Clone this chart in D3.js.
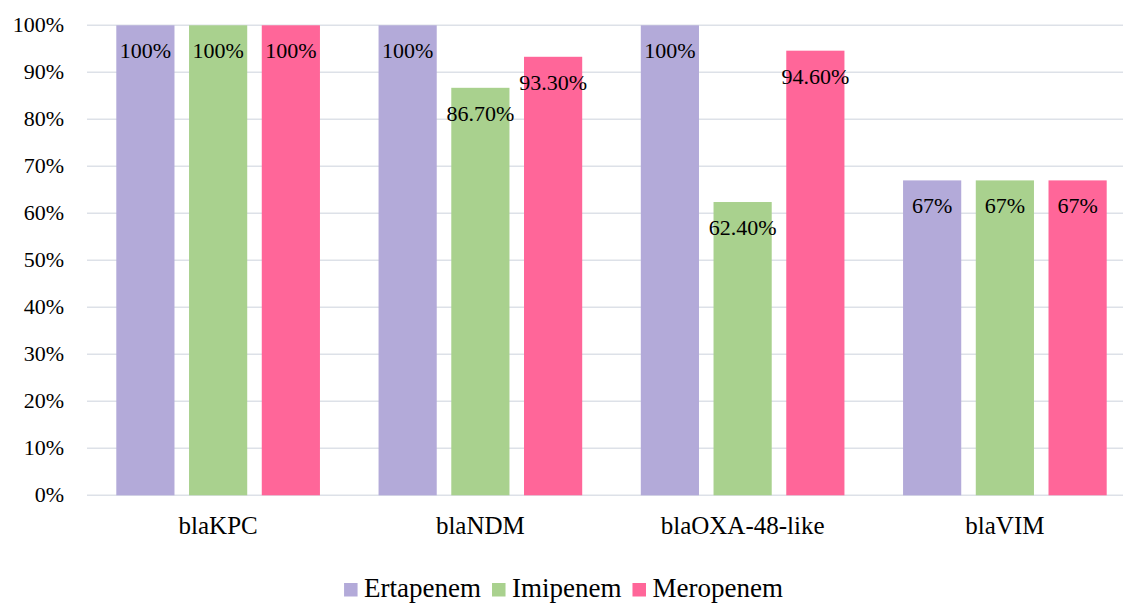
<!DOCTYPE html>
<html>
<head>
<meta charset="utf-8">
<script src="https://cdn.jsdelivr.net/npm/d3@7"></script>
<style>
  body { margin: 0; background: #fff; }
</style>
</head>
<body>
<div id="chart"></div>
<script>
var width = 1123;
var height = 605;
var fontFamily = "'Liberation Serif', Tinos, 'DejaVu Serif', 'Times New Roman', serif";

var categories = ["blaKPC", "blaNDM", "blaOXA-48-like", "blaVIM"];
var seriesNames = ["Ertapenem", "Imipenem", "Meropenem"];
var ertapenem = [1.00, 1.00, 1.00, 0.67];
var imipenem = [1.00, 0.867, 0.624, 0.67];
var meropenem = [1.00, 0.933, 0.946, 0.67];
var labelText = [
  ["100%", "100%", "100%", "67%"],
  ["100%", "86.70%", "62.40%", "67%"],
  ["100%", "93.30%", "94.60%", "67%"]
];
var yTicks = [0, 0.1, 0.2, 0.3, 0.4, 0.5, 0.6, 0.7, 0.8, 0.9, 1.0];
var colors = ["#b3aad9", "#a9d18e", "#ff6699"];

function createSVG() {
  return d3.select("#chart")
    .append("svg")
    .attr("width", width)
    .attr("height", height)
    .attr("font-family", fontFamily);
}

function drawChart(svg) {
  var values = [ertapenem, imipenem, meropenem];

  var x0 = d3.scaleBand()
    .domain(categories)
    .range([87, 1136])
    .padding(0);

  var x1 = d3.scaleBand()
    .domain(seriesNames)
    .range([29.3, x0.bandwidth() - 29.3])
    .paddingInner(0.2)
    .paddingOuter(0);

  var y = d3.scaleLinear()
    .domain([0, 1])
    .range([495.3, 25.3]);

  // gridlines
  svg.append("g")
    .selectAll("line")
    .data(yTicks)
    .enter()
    .append("line")
    .attr("x1", 87)
    .attr("x2", width)
    .attr("y1", function(d) { return y(d); })
    .attr("y2", function(d) { return y(d); })
    .attr("stroke", "#dde1e8")
    .attr("stroke-width", 1.5);

  // y tick labels
  svg.append("g")
    .selectAll("text")
    .data(yTicks)
    .enter()
    .append("text")
    .attr("x", 64)
    .attr("y", function(d) { return y(d) + 7; })
    .attr("text-anchor", "end")
    .attr("font-size", 22)
    .text(function(d) { return d3.format(".0%")(d); });

  // bars
  var rows = [];
  values.forEach(function(arr, s) {
    arr.forEach(function(v, c) {
      rows.push({ s: s, c: c, v: v, label: labelText[s][c] });
    });
  });

  svg.append("g")
    .selectAll("rect")
    .data(rows)
    .enter()
    .append("rect")
    .attr("x", function(d) { return x0(categories[d.c]) + x1(seriesNames[d.s]); })
    .attr("y", function(d) { return y(d.v); })
    .attr("width", x1.bandwidth())
    .attr("height", function(d) { return y(0) - y(d.v); })
    .attr("fill", function(d) { return colors[d.s]; });

  // data labels
  svg.append("g")
    .selectAll("text")
    .data(rows)
    .enter()
    .append("text")
    .attr("x", function(d) { return x0(categories[d.c]) + x1(seriesNames[d.s]) + x1.bandwidth() / 2; })
    .attr("y", function(d) { return y(d.v) + 33; })
    .attr("text-anchor", "middle")
    .attr("font-size", 22)
    .text(function(d) { return d.label; });

  // category labels
  svg.append("g")
    .selectAll("text")
    .data(categories)
    .enter()
    .append("text")
    .attr("x", function(d) { return x0(d) + x0.bandwidth() / 2; })
    .attr("y", 534)
    .attr("text-anchor", "middle")
    .attr("font-size", 25)
    .text(function(d) { return d; });

  // legend
  var legend = svg.append("g");
  var xPos = 0;
  seriesNames.forEach(function(name, i) {
    legend.append("rect")
      .attr("x", xPos)
      .attr("y", 583)
      .attr("width", 13.5)
      .attr("height", 13.5)
      .attr("fill", colors[i]);
    var t = legend.append("text")
      .attr("x", xPos + 20)
      .attr("y", 597)
      .attr("font-size", 27)
      .text(name);
    xPos += 20 + t.node().getComputedTextLength() + 11;
  });
  var total = xPos - 11;
  legend.attr("transform", "translate(" + (563.5 - total / 2) + ",0)");
}

window.onload = function() {
  var svg = createSVG();
  drawChart(svg);
};
</script>
</body>
</html>
